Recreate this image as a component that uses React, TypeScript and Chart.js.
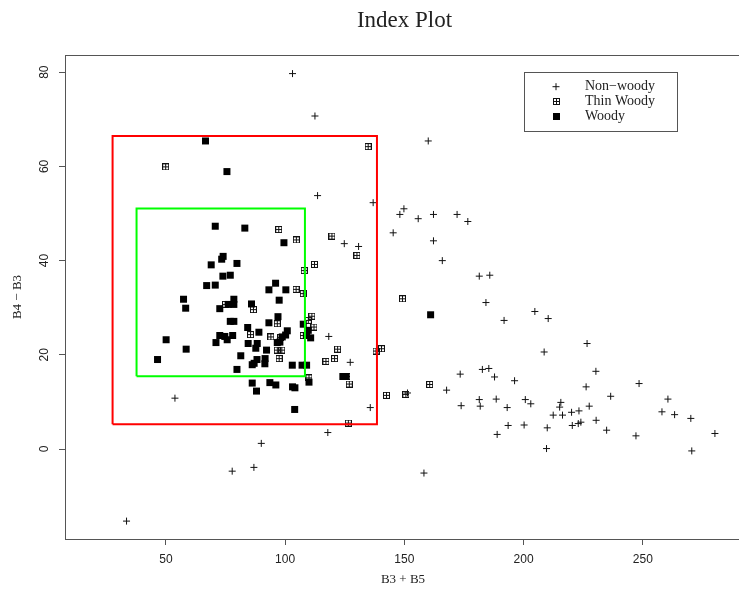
import React, { useEffect, useRef } from 'react';
import { Chart, registerables } from 'chart.js';

Chart.register(...registerables);

// ---- data ----
const NON_WOODY_X = [33.5, 103.1, 112.5, 113.6, 136.9, 124.8, 130.8, 145.3, 148.1, 149.8,
  160.0, 155.8, 162.2, 172.1, 176.6, 162.2, 165.9, 181.4, 185.8, 184.2,
  191.8, 204.7, 210.3, 208.6, 226.6, 230.3, 226.2, 248.4, 236.5, 260.5,
  258.0, 263.3, 270.1, 280.2, 270.5, 247.1, 234.8, 230.4, 227.5, 223.2,
  220.1, 216.3, 212.4, 215.1, 215.6, 220.4, 222.9, 224.0, 209.9, 209.6,
  200.2, 193.5, 188.9, 193.1, 200.7, 203.0, 196.2, 187.8, 182.7, 185.4,
  173.4, 167.7, 173.8, 181.4, 181.8, 188.5, 151.3, 135.7, 127.3, 118.3,
  117.9, 53.8, 90.0, 77.8, 86.9, 158.2];
const NON_WOODY_Y = [-15.3, 79.7, 70.7, 53.8, 52.3, 43.6, 43.0, 45.9, 49.8, 51.0,
  65.4, 48.9, 49.8, 49.8, 48.3, 44.2, 40.0, 36.7, 36.9, 31.1,
  27.3, 29.2, 27.7, 20.6, 22.4, 16.5, 13.2, 13.9, 11.2, 10.6,
  7.9, 7.3, 6.5, 3.3, -0.4, 2.8, 4.0, 6.1, 9.1, 8.1,
  7.8, 7.2, 7.2, 8.9, 9.9, 5.0, 5.4, 5.7, 4.5, 0.1,
  5.1, 5.0, 3.1, 8.8, 10.5, 9.6, 14.5, 15.3, 16.9, 17.1,
  15.9, 12.5, 9.2, 10.5, 9.1, 10.6, 11.9, 8.8, 18.4, 23.9,
  3.5, 10.8, 1.2, -4.7, -3.9, -5.1];

const THIN_X = [49.9, 134.8, 97.3, 104.7, 119.6, 130.1, 112.3, 108.0, 104.6, 107.6,
  75.0, 86.7, 111.2, 109.7, 112.1, 96.7, 85.5, 94.0, 98.2, 107.6,
  96.7, 98.6, 97.5, 117.1, 120.7, 122.0, 110.0, 125.9, 126.9, 126.5,
  138.1, 140.4, 142.5, 150.6, 160.6, 149.2];
const THIN_Y = [59.9, 64.2, 46.6, 44.4, 45.2, 41.1, 39.2, 37.9, 33.9, 33.0,
  30.7, 29.6, 28.2, 27.3, 25.9, 26.6, 24.3, 23.8, 23.7, 24.1,
  21.0, 21.0, 19.2, 18.6, 19.2, 21.2, 15.1, 15.4, 13.8, 5.5,
  20.8, 21.3, 11.4, 11.6, 13.7, 31.9];

const WOODY_X = [66.6, 75.6, 70.7, 83.1, 99.5, 74.0, 73.4, 69.0, 79.8, 73.9,
  77.0, 67.1, 70.7, 96.0, 93.2, 100.3, 97.5, 78.5, 78.5, 76.1,
  72.6, 85.9, 57.4, 58.3, 97.0, 77.0, 78.5, 93.2, 107.6, 84.3,
  89.0, 100.9, 100.2, 98.8, 109.7, 110.7, 109.0, 72.6, 74.7, 78.0,
  75.7, 71.0, 50.1, 84.5, 88.3, 87.7, 96.7, 97.8, 92.2, 58.5,
  81.4, 46.5, 88.2, 91.6, 87.0, 86.2, 91.5, 103.0, 107.1, 109.0,
  79.8, 86.2, 88.0, 93.6, 96.1, 103.1, 104.1, 104.0, 110.0, 124.2,
  125.5, 161.0];
const WOODY_Y = [65.4, 58.9, 47.3, 46.9, 43.8, 40.9, 40.3, 39.1, 39.4, 36.7,
  36.9, 34.7, 34.8, 35.2, 33.8, 33.8, 31.6, 31.8, 30.7, 30.7,
  29.8, 30.8, 31.8, 29.9, 28.1, 27.1, 27.1, 26.8, 26.5, 25.8,
  24.8, 25.1, 24.2, 23.8, 25.2, 23.6, 24.1, 24.1, 23.9, 24.1,
  23.2, 22.6, 23.2, 22.4, 22.4, 21.4, 22.6, 22.7, 21.0, 21.2,
  19.8, 19.0, 19.0, 19.2, 18.2, 17.9, 18.1, 17.8, 17.8, 17.8,
  16.9, 14.0, 12.3, 14.1, 13.6, 13.2, 13.0, 8.4, 14.2, 15.4,
  15.4, 28.5];

const RED_BOX_X = [27.65, 138.5];
const RED_BOX_Y = [5.24, 66.45];
const GREEN_BOX_X = [37.7, 108.3];
const GREEN_BOX_Y = [15.43, 51.04];

const X_TICKS = [50, 100, 150, 200, 250];
const Y_TICKS = [0, 20, 40, 60, 80];
const X_RANGE = [7.7, 290.3];
const Y_RANGE = [-19.1, 83.65];

const TITLE = 'Index Plot';
const X_LABEL = 'B3 + B5';
const Y_LABEL = 'B4 \u2212 B3';
const LEGEND_LABELS = ['Non\u2212woody', 'Thin Woody', 'Woody'];

// ---- styles ----
const AXIS_COLOR = '#555555';
const TEXT_COLOR = '#222222';
const MARK_COLOR = '#111111';
const SERIF = '"Liberation Serif", "Times New Roman", serif';
const SANS = '"Liberation Sans", Arial, sans-serif';

const pts = (xs: number[], ys: number[]) => xs.map((x, i) => ({ x, y: ys[i] }));
const rect = (xs: number[], ys: number[]) => [
  { x: xs[0], y: ys[0] }, { x: xs[1], y: ys[0] }, { x: xs[1], y: ys[1] },
  { x: xs[0], y: ys[1] }, { x: xs[0], y: ys[0] },
];

function makeBoxPlus(): HTMLCanvasElement {
  const c = document.createElement('canvas');
  c.width = 7;
  c.height = 7;
  const g = c.getContext('2d')!;
  g.strokeStyle = MARK_COLOR;
  g.lineWidth = 1;
  g.strokeRect(0.5, 0.5, 6, 6);
  g.beginPath();
  g.moveTo(3.5, 0.5); g.lineTo(3.5, 6.5);
  g.moveTo(0.5, 3.5); g.lineTo(6.5, 3.5);
  g.stroke();
  return c;
}

export default function App() {
  const ref = useRef<HTMLCanvasElement | null>(null);

  useEffect(() => {
    if (!ref.current) return;
    const boxPlus = makeBoxPlus();

    const decor = {
      id: 'decor',
      afterDraw(chart: any) {
        const { ctx, chartArea: a, scales } = chart;
        const xs = scales.x, ys = scales.y;
        ctx.save();
        // plot box
        ctx.strokeStyle = AXIS_COLOR;
        ctx.lineWidth = 1;
        ctx.strokeRect(Math.round(a.left) + 0.5, Math.round(a.top) + 0.5,
          Math.round(a.right) - Math.round(a.left) + 1, Math.round(a.bottom) - Math.round(a.top));
        // tick labels
        ctx.fillStyle = TEXT_COLOR;
        ctx.font = `12px ${SANS}`;
        ctx.textAlign = 'center';
        ctx.textBaseline = 'middle';
        xs.ticks.forEach((t: any) => {
          ctx.fillText(String(t.value), xs.getPixelForValue(t.value), a.bottom + 21);
        });
        ys.ticks.forEach((t: any) => {
          ctx.save();
          ctx.translate(a.left - 20.5, ys.getPixelForValue(t.value));
          ctx.rotate(-Math.PI / 2);
          ctx.fillText(String(t.value), 0, 0);
          ctx.restore();
        });
        // title
        ctx.font = `23px ${SERIF}`;
        ctx.textBaseline = 'alphabetic';
        ctx.fillText(TITLE, (a.left + a.right) / 2 + 2.5, 27);
        // axis labels
        ctx.font = `13px ${SERIF}`;
        ctx.fillText(X_LABEL, (a.left + a.right) / 2 + 1, 583);
        ctx.save();
        ctx.translate(18, (a.top + a.bottom) / 2);
        ctx.rotate(-Math.PI / 2);
        ctx.textBaseline = 'middle';
        ctx.fillText(Y_LABEL, 0, 0);
        ctx.restore();
        // legend
        const lx = 524.5, ly = 72.5, lw = 153, lh = 59;
        ctx.strokeStyle = AXIS_COLOR;
        ctx.strokeRect(lx, ly, lw, lh);
        const symX = 556;
        const rows = [86.7, 101.7, 116.7];
        ctx.strokeStyle = MARK_COLOR;
        ctx.beginPath();
        ctx.moveTo(symX - 3.5, rows[0]); ctx.lineTo(symX + 3.5, rows[0]);
        ctx.moveTo(symX, rows[0] - 3.5); ctx.lineTo(symX, rows[0] + 3.5);
        ctx.stroke();
        ctx.drawImage(boxPlus, Math.round(symX - 3.5), Math.round(rows[1] - 3.5));
        ctx.fillStyle = '#000';
        ctx.fillRect(Math.round(symX - 3.5), Math.round(rows[2] - 3.5), 7, 7);
        ctx.fillStyle = TEXT_COLOR;
        ctx.font = `14px ${SERIF}`;
        ctx.textAlign = 'left';
        ctx.textBaseline = 'middle';
        LEGEND_LABELS.forEach((l, i) => ctx.fillText(l, 585, rows[i]));
        ctx.restore();
      },
    };

    const chart = new Chart(ref.current, {
      type: 'scatter',
      data: {
        datasets: [
          {
            label: 'green', data: rect(GREEN_BOX_X, GREEN_BOX_Y), showLine: true,
            borderColor: '#00ff00', borderWidth: 2, pointRadius: 0, fill: false, tension: 0,
            borderJoinStyle: 'miter',
          } as any,
          {
            label: 'red', data: rect(RED_BOX_X, RED_BOX_Y), showLine: true,
            borderColor: '#ff0000', borderWidth: 2, pointRadius: 0, fill: false, tension: 0,
            borderJoinStyle: 'miter',
          } as any,
          {
            label: 'Woody', data: pts(WOODY_X, WOODY_Y), pointStyle: 'rect',
            pointRadius: 4.95, backgroundColor: '#000', borderColor: '#000', borderWidth: 0,
          },
          {
            label: 'Thin Woody', data: pts(THIN_X, THIN_Y), pointStyle: boxPlus as any,
            pointRadius: 4,
          },
          {
            label: 'Non-woody', data: pts(NON_WOODY_X, NON_WOODY_Y), pointStyle: 'cross',
            pointRadius: 3.5, borderColor: MARK_COLOR, borderWidth: 1, backgroundColor: MARK_COLOR,
          },
        ],
      },
      options: {
        animation: false,
        responsive: false,
        devicePixelRatio: 1,
        events: [],
        layout: { autoPadding: false, padding: { top: 55, left: 0, right: 0, bottom: 0 } },
        plugins: { legend: { display: false }, tooltip: { enabled: false }, title: { display: false } },
        scales: {
          x: {
            type: 'linear', min: X_RANGE[0], max: X_RANGE[1],
            afterBuildTicks: (s: any) => { s.ticks = X_TICKS.map((v) => ({ value: v })); },
            afterFit: (s: any) => { s.height = 54; s.paddingLeft = 0; s.paddingRight = 0; },
            ticks: { display: false },
            grid: { display: true, drawOnChartArea: false, drawTicks: true, tickLength: 6, color: AXIS_COLOR, lineWidth: 1 },
            border: { display: true, color: AXIS_COLOR, width: 1 },
          },
          y: {
            type: 'linear', min: Y_RANGE[0], max: Y_RANGE[1],
            afterBuildTicks: (s: any) => { s.ticks = Y_TICKS.map((v) => ({ value: v })); },
            afterFit: (s: any) => { s.width = 65; s.paddingTop = 0; s.paddingBottom = 0; },
            ticks: { display: false },
            grid: { display: true, drawOnChartArea: false, drawTicks: true, tickLength: 6, color: AXIS_COLOR, lineWidth: 1 },
            border: { display: true, color: AXIS_COLOR, width: 1 },
          },
        },
      },
      plugins: [decor],
    });
    return () => chart.destroy();
  }, []);

  return (
    <div style={{ position: 'absolute', left: 0, top: 0, width: 739, height: 593, background: '#fff' }}>
      <canvas ref={ref} width={739} height={593} style={{ display: 'block' }} />
    </div>
  );
}
